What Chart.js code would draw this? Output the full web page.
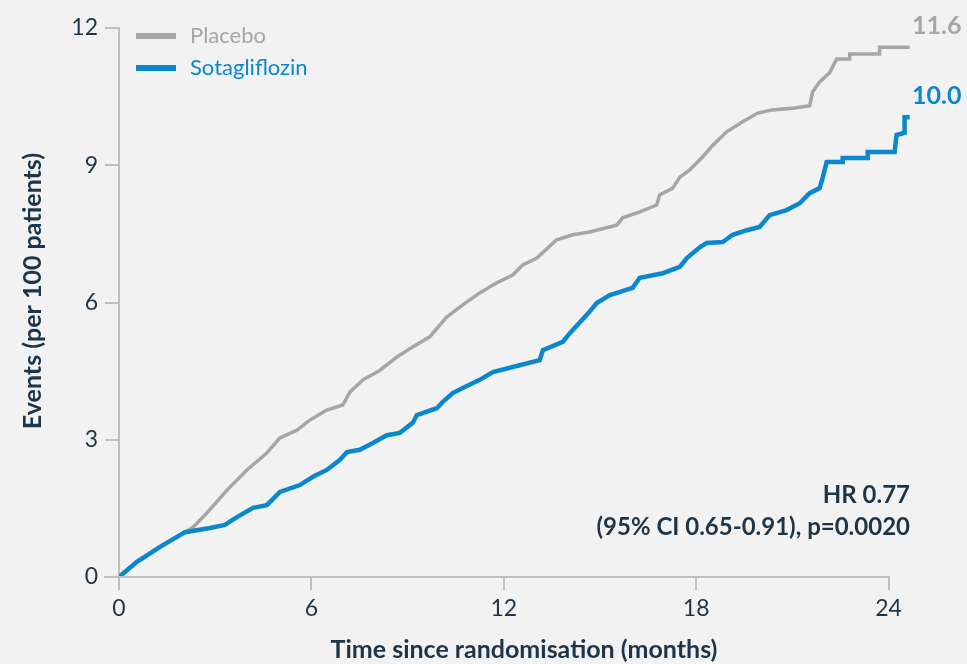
<!DOCTYPE html>
<html>
<head>
<meta charset="utf-8">
<script src="https://cdn.jsdelivr.net/npm/chart.js@4"></script>
<style>
  html, body { margin: 0; padding: 0; background: #f2f2f2; }
  #wrap { width: 967px; height: 664px; position: relative; }
</style>
</head>
<body>
<div id="wrap"><canvas id="kmChart"></canvas></div>
<script>
// Data (months, events per 100 patients)
const placeboMonths = [0, 0.56, 1.28, 2.06, 2.31, 2.74, 3.37, 3.99, 4.61, 5.02, 5.55, 5.95, 6.48, 6.98, 7.20, 7.61, 8.14, 8.67, 9.16, 9.69, 10.22, 10.72, 11.25, 11.78, 12.28, 12.59, 13.03, 13.65, 14.15, 14.68, 15.52, 15.71, 16.24, 16.77, 16.86, 17.27, 17.49, 17.80, 18.20, 18.52, 18.95, 19.45, 19.92, 20.36, 21.07, 21.54, 21.63, 21.85, 22.16, 22.38, 22.79, 22.79, 23.72, 23.72, 24.66];
const placeboEvents = [0, 0.33, 0.66, 0.98, 1.09, 1.40, 1.90, 2.34, 2.71, 3.04, 3.21, 3.43, 3.65, 3.76, 4.04, 4.31, 4.52, 4.81, 5.03, 5.25, 5.68, 5.95, 6.21, 6.43, 6.60, 6.82, 6.97, 7.37, 7.48, 7.54, 7.69, 7.85, 7.98, 8.13, 8.35, 8.50, 8.74, 8.90, 9.18, 9.44, 9.73, 9.95, 10.14, 10.21, 10.25, 10.30, 10.60, 10.82, 11.02, 11.32, 11.32, 11.43, 11.43, 11.58, 11.58];

const sotaMonths = [0, 0.56, 1.28, 2.06, 2.84, 3.30, 3.68, 4.18, 4.61, 5.02, 5.64, 6.05, 6.48, 6.89, 7.11, 7.51, 7.92, 8.35, 8.76, 9.16, 9.29, 9.91, 10.10, 10.41, 10.72, 11.25, 11.66, 12.28, 13.12, 13.22, 13.84, 14.06, 14.59, 14.90, 15.31, 16.02, 16.24, 16.96, 17.49, 17.71, 18.12, 18.33, 18.83, 19.14, 19.58, 19.98, 20.29, 20.82, 21.23, 21.54, 21.85, 21.95, 22.07, 22.57, 22.57, 23.35, 23.35, 24.19, 24.25, 24.50, 24.50, 24.66];
const sotaEvents = [0, 0.33, 0.66, 0.98, 1.07, 1.14, 1.31, 1.51, 1.57, 1.86, 2.01, 2.19, 2.34, 2.56, 2.73, 2.78, 2.93, 3.10, 3.15, 3.37, 3.54, 3.69, 3.83, 4.02, 4.13, 4.31, 4.48, 4.59, 4.74, 4.96, 5.14, 5.33, 5.73, 5.99, 6.16, 6.32, 6.54, 6.64, 6.78, 6.97, 7.21, 7.30, 7.32, 7.48, 7.58, 7.65, 7.91, 8.02, 8.17, 8.39, 8.50, 8.74, 9.07, 9.07, 9.16, 9.16, 9.29, 9.29, 9.66, 9.71, 10.05, 10.05];

const xTicks = [0, 6, 12, 18, 24];
const yTicks = [0, 3, 6, 9, 12];
const seriesNames = ['Placebo', 'Sotagliflozin'];
const endLabels = ['11.6', '10.0'];
const hrLines = ['HR 0.77', '(95% CI 0.65-0.91), p=0.0020'];
const xTitle = 'Time since randomisation (months)';
const yTitle = 'Events (per 100 patients)';

const GREY = '#a6a6a6';
const BLUE = '#0a87cd';
const AXIS = '#bfbfbf';
const TEXT = '#1d3549';
const FONT = 'Lato, "Open Sans", sans-serif';

const toPoints = (xs, ys) => xs.map((x, i) => ({ x: x, y: ys[i] }));

// Background, x axis line, titles, legend and annotations
const decorPlugin = {
    id: 'decor',
    beforeDraw(chart) {
        const ctx = chart.ctx;
        ctx.save();
        ctx.fillStyle = '#f2f2f2';
        ctx.fillRect(0, 0, chart.width, chart.height);
        ctx.restore();
    },
    afterDraw(chart) {
        const ctx = chart.ctx;
        const xs = chart.scales.x;
        const ys = chart.scales.y;
        ctx.save();

        // x axis line runs from the y tick end to the last tick only
        const y0 = ys.getPixelForValue(0);
        ctx.strokeStyle = AXIS;
        ctx.lineWidth = 2;
        ctx.beginPath();
        ctx.moveTo(xs.getPixelForValue(0) - 15, y0);
        ctx.lineTo(xs.getPixelForValue(24) + 1, y0);
        ctx.stroke();

        // axis titles
        ctx.font = 'bold 25px ' + FONT;
        ctx.fillStyle = TEXT;
        ctx.textAlign = 'center';
        ctx.textBaseline = 'middle';
        ctx.fillText(xTitle, 524, 650);
        ctx.translate(33, 291);
        ctx.rotate(-Math.PI / 2);
        ctx.fillText(yTitle, 0, 0);
        ctx.setTransform(1, 0, 0, 1, 0, 0);

        // legend
        const legendColors = [GREY, BLUE];
        ctx.font = '22px ' + FONT;
        ctx.textAlign = 'left';
        seriesNames.forEach((name, i) => {
            const ly = 36 + i * 32;
            ctx.strokeStyle = legendColors[i];
            ctx.lineWidth = 6;
            ctx.beginPath();
            ctx.moveTo(136, ly);
            ctx.lineTo(176, ly);
            ctx.stroke();
            ctx.fillStyle = legendColors[i];
            ctx.fillText(name, 190, ly);
        });

        // end values
        ctx.font = 'bold 25px ' + FONT;
        ctx.fillStyle = GREY;
        ctx.fillText(endLabels[0], 912, 26);
        ctx.fillStyle = BLUE;
        ctx.fillText(endLabels[1], 912, 96);

        // hazard ratio
        ctx.font = 'bold 24px ' + FONT;
        ctx.fillStyle = TEXT;
        ctx.textAlign = 'right';
        ctx.fillText(hrLines[0], 910, 495);
        ctx.fillText(hrLines[1], 910, 527);
        ctx.restore();
    }
};

new Chart(document.getElementById('kmChart').getContext('2d'), {
    type: 'line',
    data: {
        datasets: [{
            label: seriesNames[1],
            data: toPoints(sotaMonths, sotaEvents),
            borderColor: BLUE,
            borderWidth: 4.5,
            pointRadius: 0,
            tension: 0
        }, {
            label: seriesNames[0],
            data: toPoints(placeboMonths, placeboEvents),
            borderColor: GREY,
            borderWidth: 3.5,
            pointRadius: 0,
            tension: 0
        }]
    },
    options: {
        responsive: true,
        maintainAspectRatio: false,
        animation: false,
        layout: { padding: { top: 28, right: 56, left: 0, bottom: 0 } },
        plugins: {
            legend: { display: false },
            tooltip: { enabled: false }
        },
        scales: {
            x: {
                type: 'linear',
                min: 0,
                max: 24.7,
                afterBuildTicks: (s) => { s.ticks = xTicks.map(v => ({ value: v })); },
                afterFit: (s) => { s.height = 87; },
                border: { display: false },
                grid: { drawOnChartArea: false, drawTicks: true, tickLength: 13, color: AXIS, lineWidth: 2 },
                ticks: { color: TEXT, font: { family: FONT, size: 23 }, padding: 5, maxRotation: 0 }
            },
            y: {
                min: 0,
                max: 12,
                afterBuildTicks: (s) => { s.ticks = yTicks.map(v => ({ value: v })); },
                afterFit: (s) => { s.width = 119; },
                border: { display: true, color: AXIS, width: 2 },
                grid: { drawOnChartArea: false, drawTicks: true, tickLength: 14, color: AXIS, lineWidth: 2 },
                ticks: { color: TEXT, font: { family: FONT, size: 23 }, padding: 7 }
            }
        }
    },
    plugins: [decorPlugin]
});
</script>
</body>
</html>
